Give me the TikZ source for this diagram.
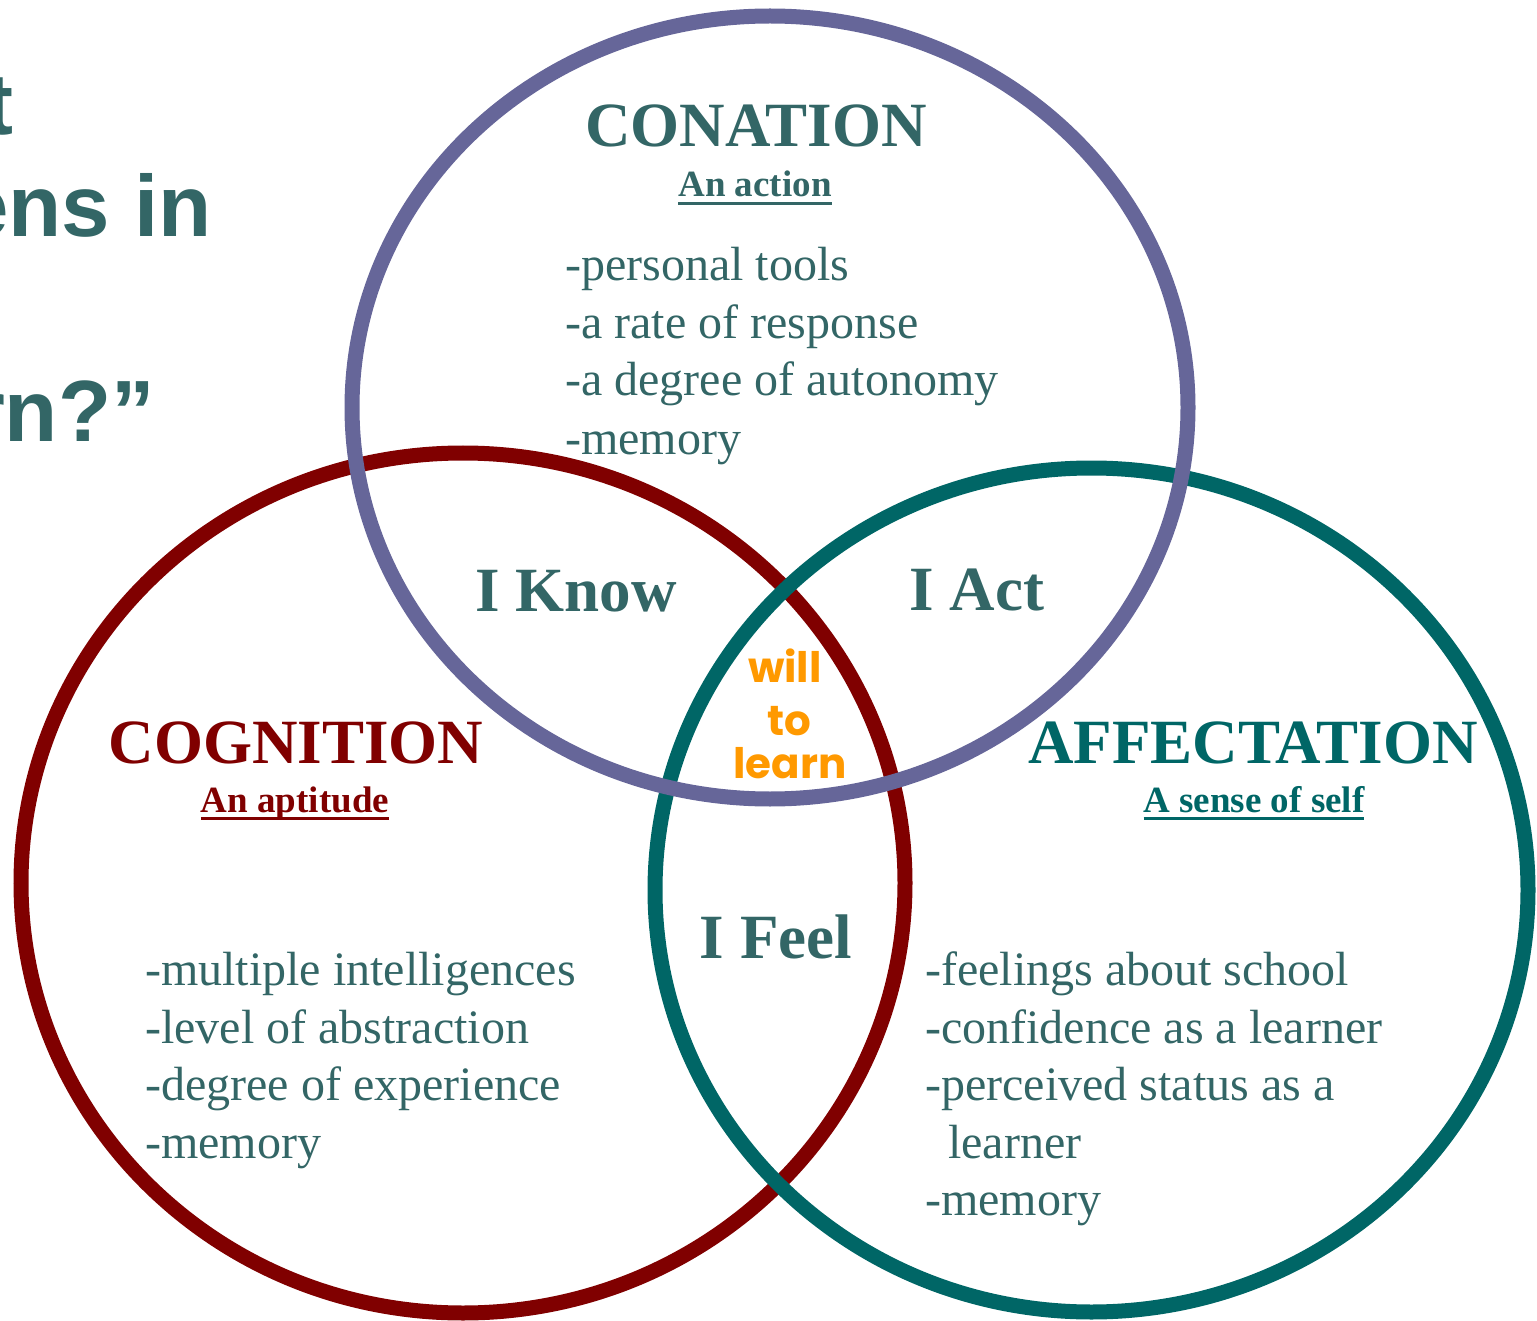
\documentclass[tikz,border=0pt]{standalone}
\usepackage{fontspec}
\setmainfont{Liberation Serif}
\newfontfamily\headsans{Liberation Sans}
\newfontfamily\playful{Poppins}

\definecolor{slate}{HTML}{336666}
\definecolor{conpurple}{HTML}{666699}
\definecolor{cogred}{HTML}{800000}
\definecolor{affteal}{HTML}{006666}
\definecolor{willorange}{HTML}{FF9900}

% underline at a fixed distance below the baseline
\newcommand\barunder[1]{\setbox0\hbox{#1}\rlap{\rule[-0.22em]{\wd0}{0.075em}}\box0}

\tikzset{
  ring/.style={line width=15pt},
  heading/.style={anchor=base, inner sep=0pt, font=\fontsize{63}{63}\selectfont\bfseries},
  subhead/.style={anchor=base, inner sep=0pt, font=\fontsize{37}{37}\selectfont\bfseries},
  overlap/.style={anchor=base, inner sep=0pt, text=slate, font=\fontsize{63}{63}\selectfont\bfseries},
  item/.style={anchor=base west, inner sep=0pt, text=slate, font=\fontsize{48}{48}\selectfont},
  will/.style={anchor=base, inner sep=0pt, text=willorange, font=\fontsize{42}{42}\selectfont\playful\bfseries},
  question/.style={anchor=base east, inner sep=0pt, text=slate, font=\fontsize{87}{87}\selectfont\headsans\bfseries}
}

\begin{document}
\begin{tikzpicture}[x=1pt,y=-1pt]
\useasboundingbox (0,0) rectangle (1537,1321);
\clip (0,0) rectangle (1537,1321);

% title lines running in from the left
\node[question] (q1) at (14,135) {t};
\node[question] (q2) at (212,237) {ens in};
\node[question] (q3) at (155,442) {rn?”};

% the three rings
\draw[ring, cogred] (463,883) ellipse [x radius=442, y radius=430];
\draw[ring, affteal] (1091.5,890) ellipse [x radius=436.5, y radius=422];
\draw[ring, conpurple] (770,407.5) ellipse [x radius=418, y radius=391.5];

% conation
\node[heading, text=slate] (con) at (756,147) {CONATION};
\node[subhead, text=slate] (consub) at (755,197) {\barunder{An action}};
\node[item] (c1) at (565,281) {-personal tools};
\node[item] (c2) at (565,339) {-a rate of response};
\node[item] (c3) at (565,396) {-a degree of autonomy};
\node[item] (c4) at (565,454) {-memory};

% cognition
\node[heading, text=cogred] (cog) at (296,763) {COGNITION};
\node[subhead, text=cogred] (cogsub) at (295,812) {\barunder{An aptitude}};
\node[item] (g1) at (145,985) {-multiple intelligences};
\node[item] (g2) at (145,1043) {-level of abstraction};
\node[item] (g3) at (145,1100) {-degree of experience};
\node[item] (g4) at (145,1158) {-memory};

% affectation
\node[heading, text=affteal] (aff) at (1253,763) {AFFECTATION};
\node[subhead, text=affteal] (affsub) at (1254,812) {\barunder{A sense of self}};
\node[item] (a1) at (925,985) {-feelings about school};
\node[item] (a2) at (925,1043) {-confidence as a learner};
\node[item] (a3) at (925,1100) {-perceived status as a};
\node[item] (a4) at (948,1158) {learner};
\node[item] (a5) at (925,1215) {-memory};

% overlaps
\node[overlap] (know) at (576,611) {I Know};
\node[overlap] (act) at (977,610) {I Act};
\node[overlap] (feel) at (776,958) {I Feel};

% centre
\node[will] (w1) at (785,682) {will};
\node[will] (w2) at (789,735) {to};
\node[will] (w3) at (790,778) {learn};
\end{tikzpicture}
\end{document}
